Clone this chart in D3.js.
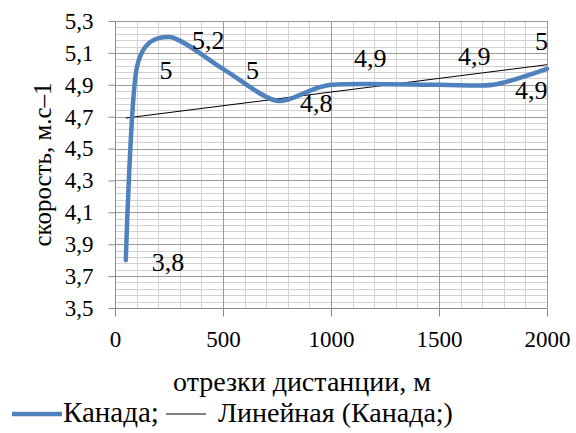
<!DOCTYPE html>
<html>
<head>
<meta charset="utf-8">
<script src="https://cdn.jsdelivr.net/npm/d3@7"></script>
<style>
  body { margin: 0; background: #fff; }
  svg { display: block; }
</style>
</head>
<body>
<svg id="chart" width="576" height="433"></svg>
<script>
// Segment distances (m) and average speed on each segment
const distances = [50, 100, 250, 500, 750, 1000, 1500, 1750, 2000];
const speeds    = [3.8, 5.0, 5.2, 5.0, 4.8, 4.9, 4.9, 4.9, 5.0];

// Axis ticks
const xTicks = [0, 500, 1000, 1500, 2000];
const yTicks = [3.5, 3.7, 3.9, 4.1, 4.3, 4.5, 4.7, 4.9, 5.1, 5.3];

// Texts
const seriesName = "Канада;";
const trendName  = "Линейная (Канада;)";
const xTitle     = "отрезки дистанции, м";
const yTitle     = "скорость, м.с–1";

const FONT = "'Liberation Serif', 'Times New Roman', Times, serif";

const svg = d3.select("#chart");
const plot = { left: 115, right: 547, top: 21, bottom: 308 };

const x = d3.scaleLinear().domain([0, 2000]).range([plot.left, plot.right]);
const y = d3.scaleLinear().domain([3.5, 5.3]).range([plot.bottom, plot.top]);

const comma = v => String(+v.toFixed(1)).replace(".", ",");
const px = v => Math.round(v) + 0.5;

// Minor grid: every 100 m and every 0.04 m/s
const g = svg.append("g");
g.selectAll(".vmin").data(d3.range(0, 2001, 100)).join("line")
  .attr("x1", d => px(x(d))).attr("x2", d => px(x(d)))
  .attr("y1", plot.top).attr("y2", plot.bottom)
  .attr("stroke", "#d2d2d2");
g.selectAll(".hmin").data(d3.range(0, 46).map(i => 3.5 + i * 0.04)).join("line")
  .attr("x1", plot.left).attr("x2", plot.right)
  .attr("y1", d => px(y(d))).attr("y2", d => px(y(d)))
  .attr("stroke", "#d2d2d2");
// Major grid
g.selectAll(".vmaj").data(xTicks).join("line")
  .attr("x1", d => px(x(d))).attr("x2", d => px(x(d)))
  .attr("y1", plot.top).attr("y2", plot.bottom)
  .attr("stroke", "#9a9a9a");
g.selectAll(".hmaj").data(yTicks).join("line")
  .attr("x1", plot.left).attr("x2", plot.right)
  .attr("y1", d => px(y(d))).attr("y2", d => px(y(d)))
  .attr("stroke", "#9a9a9a");

// Axes
const xAxis = d3.axisBottom(x).tickValues(xTicks).tickSize(8).tickPadding(14).tickFormat(d3.format("d"));
const yAxis = d3.axisLeft(y).tickValues(yTicks).tickSize(7).tickPadding(15).tickFormat(comma);

const gx = svg.append("g").attr("transform", `translate(0,${px(plot.bottom)})`).call(xAxis);
const gy = svg.append("g").attr("transform", `translate(${px(plot.left)},0)`).call(yAxis);
[gx, gy].forEach(a => {
  a.attr("font-family", null).attr("font-size", null);
  a.select(".domain").attr("stroke", "#8a8a8a");
  a.selectAll(".tick line").attr("stroke", "#8a8a8a");
  a.selectAll("text").style("font-family", FONT).style("font-size", "23px").attr("fill", "#000");
});
gy.select(".domain").attr("d", `M0,${plot.top}V${plot.bottom}`);
gx.select(".domain").attr("d", `M${plot.left},0H${plot.right}`);

// Linear trend (least squares)
const mx = d3.mean(distances), my = d3.mean(speeds);
const slope = d3.sum(distances, (d, i) => (d - mx) * (speeds[i] - my)) /
              d3.sum(distances, d => (d - mx) ** 2);
const icpt = my - slope * mx;
const trendX = d3.extent(distances);
svg.append("line")
  .attr("x1", x(trendX[0])).attr("y1", y(icpt + slope * trendX[0]))
  .attr("x2", x(trendX[1])).attr("y2", y(icpt + slope * trendX[1]))
  .attr("stroke", "#000").attr("stroke-width", 1);

// Smoothed series line
const pts = distances.map((d, i) => [d, speeds[i]]);
svg.append("path")
  .datum(pts)
  .attr("fill", "none")
  .attr("stroke", "#4f81bd")
  .attr("stroke-width", 4.5)
  .attr("stroke-linecap", "round")
  .attr("stroke-linejoin", "round")
  .attr("d", d3.line().x(d => x(d[0])).y(d => y(d[1])).curve(d3.curveCardinal.tension(0.2)));

// Data labels: to the right of points, a few lifted above the line
const nudge = [[26, 2], [23, 1], [23, 3], [23, 1], [23, 2], [23, -27], [19, -29], [22, 5], [-12, -28]];
svg.append("g").selectAll("text").data(pts).join("text")
  .attr("x", (d, i) => x(d[0]) + nudge[i][0])
  .attr("y", (d, i) => y(d[1]) + nudge[i][1])
  .attr("dy", "0.34em")
  .style("font-family", FONT).style("font-size", "26px")
  .text(d => comma(d[1]));

// Axis titles
svg.append("text")
  .attr("transform", `translate(51,${(plot.top + plot.bottom) / 2}) rotate(-90)`)
  .attr("text-anchor", "middle")
  .style("font-family", FONT).style("font-size", "25px")
  .text(yTitle);
svg.append("text")
  .attr("x", 302).attr("y", 391)
  .attr("text-anchor", "middle")
  .style("font-family", FONT).style("font-size", "28px")
  .text(xTitle);

// Legend
const lg = svg.append("g");
lg.append("line").attr("x1", 12).attr("x2", 62).attr("y1", 414).attr("y2", 414)
  .attr("stroke", "#4f81bd").attr("stroke-width", 4.5);
lg.append("text").attr("x", 63).attr("y", 422)
  .style("font-family", FONT).style("font-size", "29px").text(seriesName);
lg.append("line").attr("x1", 166).attr("x2", 206).attr("y1", 414).attr("y2", 414)
  .attr("stroke", "#000").attr("stroke-width", 1);
lg.append("text").attr("x", 218).attr("y", 422)
  .style("font-family", FONT).style("font-size", "28px").text(trendName);
</script>
</body>
</html>
